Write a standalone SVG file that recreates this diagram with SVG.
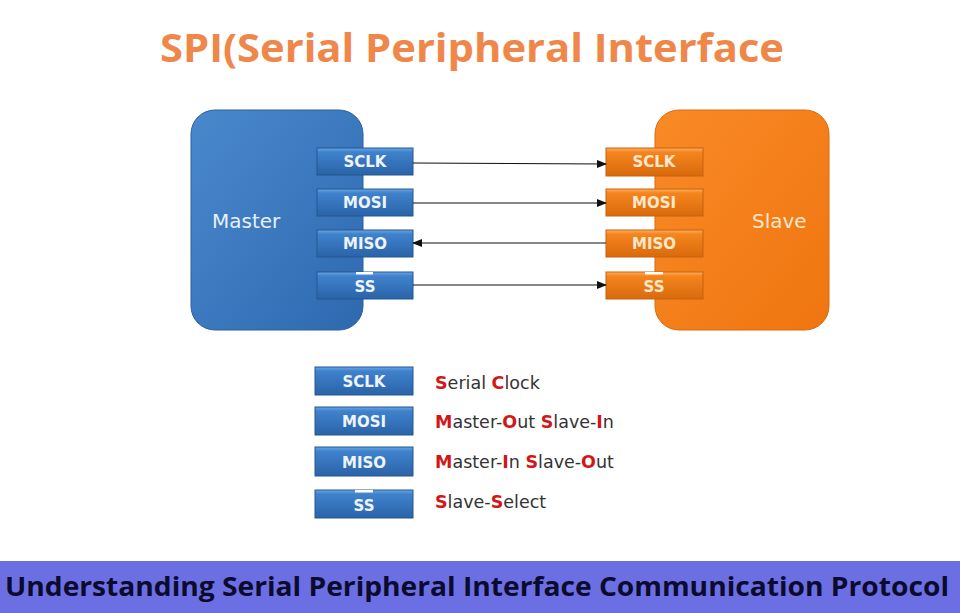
<svg xmlns="http://www.w3.org/2000/svg" width="960" height="613" viewBox="0 0 960 613">
<defs>
<linearGradient id="gBlue" x1="0" y1="0" x2="1" y2="1">
<stop offset="0" stop-color="#4a88cc"/><stop offset="1" stop-color="#2e69b0"/>
</linearGradient>
<linearGradient id="gOrange" x1="0" y1="0" x2="1" y2="1">
<stop offset="0" stop-color="#f98a26"/><stop offset="1" stop-color="#ef7510"/>
</linearGradient>
<linearGradient id="pBlue" x1="0" y1="0" x2="0" y2="1">
<stop offset="0" stop-color="#6aa6e4"/><stop offset="0.15" stop-color="#3f82cc"/><stop offset="1" stop-color="#2a63a8"/>
</linearGradient>
<linearGradient id="pOrange" x1="0" y1="0" x2="0" y2="1">
<stop offset="0" stop-color="#ffb060"/><stop offset="0.15" stop-color="#f5851e"/><stop offset="1" stop-color="#d96a0c"/>
</linearGradient>
<marker id="ah" markerWidth="10" markerHeight="8" refX="9" refY="4" orient="auto" markerUnits="userSpaceOnUse">
<path d="M0,0 L10,4 L0,8 z" fill="#111"/>
</marker>
</defs>
<style>
.pinB{fill:url(#pBlue);stroke:#25578f;stroke-width:1}
.pinO{fill:url(#pOrange);stroke:#c6620e;stroke-width:1}
.pt{font-family:"DejaVu Sans",Verdana,sans-serif;font-size:15px;font-weight:bold;fill:#eef4fb;text-anchor:middle}
.ptO{font-family:"DejaVu Sans",Verdana,sans-serif;font-size:15px;font-weight:bold;fill:#fde7c8;text-anchor:middle}
.big{font-family:"DejaVu Sans",Verdana,sans-serif;font-size:20px}
.leg{font-family:"DejaVu Sans",Verdana,sans-serif;font-size:17.5px;fill:#333333}
.r{fill:#d01818;font-weight:bold}
.wire{stroke:#111;stroke-width:1.2;fill:none}
</style>
<rect width="960" height="613" fill="#ffffff"/>
<text x="472" y="62" text-anchor="middle" font-family="'Open Sans','Noto Sans',sans-serif" font-weight="bold" font-size="40" fill="#f0874a" textLength="624" lengthAdjust="spacingAndGlyphs">SPI(Serial Peripheral Interface</text>

<g id="master">
<rect x="191" y="110" width="172" height="220" rx="24" fill="url(#gBlue)" stroke="#2a5f9e" stroke-width="1"/>
<text x="212" y="228" class="big" fill="#e8f0fa">Master</text>
</g>
<g id="slave">
<rect x="655" y="110" width="174" height="220" rx="24" fill="url(#gOrange)" stroke="#d86a0e" stroke-width="1"/>
<text x="752" y="228" class="big" fill="#fde7c8">Slave</text>
</g>

<g id="m-sclk"><rect x="317" y="148" width="96" height="27" class="pinB"/><text x="365" y="167" class="pt">SCLK</text></g>
<g id="m-mosi"><rect x="317" y="189" width="96" height="27" class="pinB"/><text x="365" y="208" class="pt">MOSI</text></g>
<g id="m-miso"><rect x="317" y="230" width="96" height="27" class="pinB"/><text x="365" y="249" class="pt">MISO</text></g>
<g id="m-ss"><rect x="317" y="272" width="96" height="27" class="pinB"/><rect x="356" y="272" width="17" height="2.5" fill="#ffffff"/><text x="365" y="292" class="pt">SS</text></g>

<g id="s-sclk"><rect x="606" y="148" width="97" height="28" class="pinO"/><text x="654" y="167" class="ptO">SCLK</text></g>
<g id="s-mosi"><rect x="606" y="189" width="97" height="27" class="pinO"/><text x="654" y="208" class="ptO">MOSI</text></g>
<g id="s-miso"><rect x="606" y="230" width="97" height="27" class="pinO"/><text x="654" y="249" class="ptO">MISO</text></g>
<g id="s-ss"><rect x="606" y="272" width="97" height="27" class="pinO"/><rect x="645" y="272" width="18" height="2.5" fill="#ffffff"/><text x="654" y="292" class="ptO">SS</text></g>

<g id="connectors">
<line x1="413" y1="163" x2="606" y2="164" class="wire" marker-end="url(#ah)"/>
<line x1="413" y1="203" x2="606" y2="203" class="wire" marker-end="url(#ah)"/>
<line x1="606" y1="243" x2="413" y2="243" class="wire" marker-end="url(#ah)"/>
<line x1="413" y1="285" x2="606" y2="285" class="wire" marker-end="url(#ah)"/>
</g>

<g id="legend">
<g id="l-sclk"><rect x="315" y="367" width="98" height="28" class="pinB"/><text x="364" y="387" class="pt">SCLK</text>
<text x="435" y="389" class="leg"><tspan class="r">S</tspan>erial <tspan class="r">C</tspan>lock</text></g>
<g id="l-mosi"><rect x="315" y="407" width="98" height="28" class="pinB"/><text x="364" y="427" class="pt">MOSI</text>
<text x="435" y="428" class="leg"><tspan class="r">M</tspan>aster-<tspan class="r">O</tspan>ut <tspan class="r">S</tspan>lave-<tspan class="r">I</tspan>n</text></g>
<g id="l-miso"><rect x="315" y="447" width="98" height="29" class="pinB"/><text x="364" y="468" class="pt">MISO</text>
<text x="435" y="468" class="leg"><tspan class="r">M</tspan>aster-<tspan class="r">I</tspan>n <tspan class="r">S</tspan>lave-<tspan class="r">O</tspan>ut</text></g>
<g id="l-ss"><rect x="315" y="490" width="98" height="28" class="pinB"/><rect x="355" y="490" width="18" height="2.5" fill="#ffffff"/><text x="364" y="511" class="pt">SS</text>
<text x="435" y="508" class="leg"><tspan class="r">S</tspan>lave-<tspan class="r">S</tspan>elect</text></g>
</g>

<rect x="0" y="561" width="960" height="52" fill="#6b6fe3"/>
<text x="477" y="596" text-anchor="middle" font-family="'Open Sans','Noto Sans',sans-serif" font-weight="bold" font-size="27" fill="#0b0b2e" textLength="944" lengthAdjust="spacingAndGlyphs">Understanding Serial Peripheral Interface Communication Protocol</text>
</svg>
